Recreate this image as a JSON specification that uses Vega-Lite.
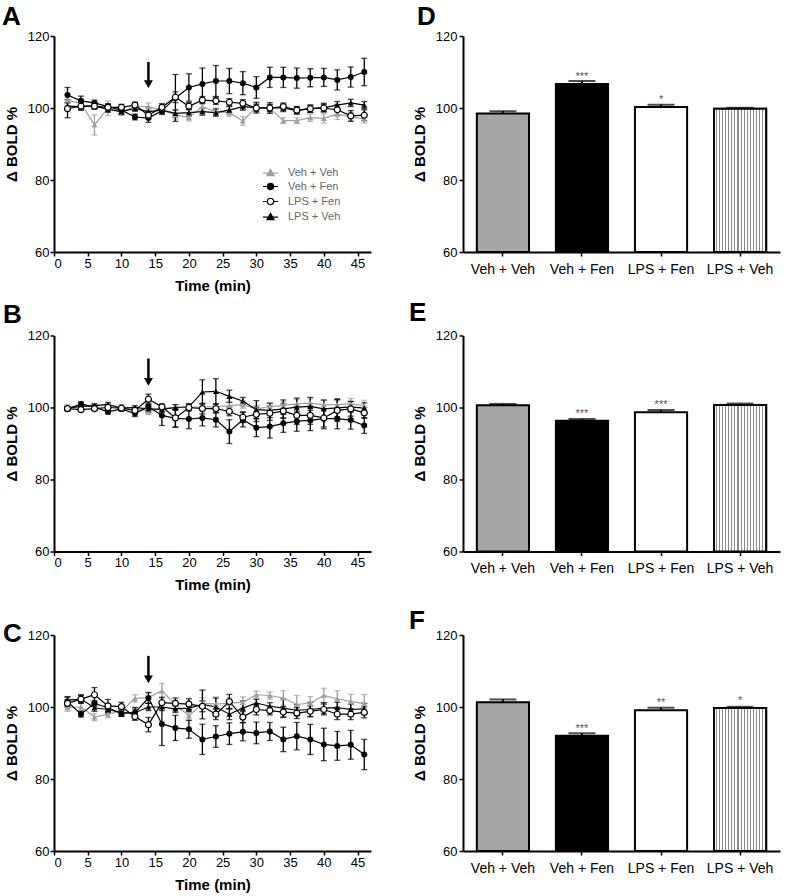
{
"$schema": "https://vega.github.io/schema/vega-lite/v6.json",
"background": "white",
"padding": {"left": 2, "top": 4, "right": 5, "bottom": 5},
"datasets": {
"arrows": [
{"panel":"A","time":14,"top":112.8,"head":106.6},
{"panel":"B","time":14,"top":113.6,"head":107.1},
{"panel":"C","time":14,"top":114.2,"head":107.7}
],
"bars": [
{"panel":"D","group":"Veh + Veh","mean":98.5,"sem":0.6,"sig":""},
{"panel":"D","group":"Veh + Fen","mean":106.7,"sem":0.8,"sig":"***"},
{"panel":"D","group":"LPS + Fen","mean":100.3,"sem":0.6,"sig":"*"},
{"panel":"D","group":"LPS + Veh","mean":99.8,"sem":0.25,"sig":""},
{"panel":"E","group":"Veh + Veh","mean":100.6,"sem":0.4,"sig":""},
{"panel":"E","group":"Veh + Fen","mean":96.3,"sem":0.5,"sig":"***"},
{"panel":"E","group":"LPS + Fen","mean":98.7,"sem":0.6,"sig":"***"},
{"panel":"E","group":"LPS + Veh","mean":100.7,"sem":0.4,"sig":""},
{"panel":"F","group":"Veh + Veh","mean":101.3,"sem":0.8,"sig":""},
{"panel":"F","group":"Veh + Fen","mean":92.0,"sem":0.7,"sig":"***"},
{"panel":"F","group":"LPS + Fen","mean":99.1,"sem":0.7,"sig":"**"},
{"panel":"F","group":"LPS + Veh","mean":99.7,"sem":0.35,"sig":"*"}
],
"lines": [
{"panel":"A","series":"Veh + Veh","time":2,"mean":102.2,"sem":1.5},
{"panel":"A","series":"Veh + Veh","time":4,"mean":101.3,"sem":1},
{"panel":"A","series":"Veh + Veh","time":6,"mean":95.3,"sem":2.8},
{"panel":"A","series":"Veh + Veh","time":8,"mean":99.9,"sem":2},
{"panel":"A","series":"Veh + Veh","time":10,"mean":99.0,"sem":1},
{"panel":"A","series":"Veh + Veh","time":12,"mean":100.4,"sem":1},
{"panel":"A","series":"Veh + Veh","time":14,"mean":100.4,"sem":1},
{"panel":"A","series":"Veh + Veh","time":16,"mean":99.4,"sem":1},
{"panel":"A","series":"Veh + Veh","time":18,"mean":98.1,"sem":1.2},
{"panel":"A","series":"Veh + Veh","time":20,"mean":97.4,"sem":1},
{"panel":"A","series":"Veh + Veh","time":22,"mean":100.4,"sem":1},
{"panel":"A","series":"Veh + Veh","time":24,"mean":99.0,"sem":1},
{"panel":"A","series":"Veh + Veh","time":26,"mean":98.7,"sem":1},
{"panel":"A","series":"Veh + Veh","time":28,"mean":96.4,"sem":1.2},
{"panel":"A","series":"Veh + Veh","time":30,"mean":100.2,"sem":1},
{"panel":"A","series":"Veh + Veh","time":32,"mean":99.9,"sem":1},
{"panel":"A","series":"Veh + Veh","time":34,"mean":96.5,"sem":0.8},
{"panel":"A","series":"Veh + Veh","time":36,"mean":96.5,"sem":0.8},
{"panel":"A","series":"Veh + Veh","time":38,"mean":97.3,"sem":1},
{"panel":"A","series":"Veh + Veh","time":40,"mean":97.1,"sem":1.3},
{"panel":"A","series":"Veh + Veh","time":42,"mean":98.3,"sem":1.5},
{"panel":"A","series":"Veh + Veh","time":44,"mean":97.6,"sem":1.2},
{"panel":"A","series":"Veh + Veh","time":46,"mean":97.0,"sem":1.2},
{"panel":"A","series":"Veh + Fen","time":2,"mean":103.6,"sem":2.1},
{"panel":"A","series":"Veh + Fen","time":4,"mean":102.0,"sem":1.3},
{"panel":"A","series":"Veh + Fen","time":6,"mean":101.4,"sem":0.8},
{"panel":"A","series":"Veh + Fen","time":8,"mean":100.4,"sem":0.8},
{"panel":"A","series":"Veh + Fen","time":10,"mean":99.4,"sem":1},
{"panel":"A","series":"Veh + Fen","time":12,"mean":97.5,"sem":0.8},
{"panel":"A","series":"Veh + Fen","time":14,"mean":97.2,"sem":1.2},
{"panel":"A","series":"Veh + Fen","time":16,"mean":99.2,"sem":1},
{"panel":"A","series":"Veh + Fen","time":18,"mean":102.8,"sem":6.5},
{"panel":"A","series":"Veh + Fen","time":20,"mean":105.7,"sem":3.8},
{"panel":"A","series":"Veh + Fen","time":22,"mean":106.7,"sem":4.4},
{"panel":"A","series":"Veh + Fen","time":24,"mean":107.5,"sem":4.3},
{"panel":"A","series":"Veh + Fen","time":26,"mean":107.5,"sem":3.5},
{"panel":"A","series":"Veh + Fen","time":28,"mean":106.9,"sem":3.2},
{"panel":"A","series":"Veh + Fen","time":30,"mean":105.7,"sem":3},
{"panel":"A","series":"Veh + Fen","time":32,"mean":108.5,"sem":2.8},
{"panel":"A","series":"Veh + Fen","time":34,"mean":108.5,"sem":2.8},
{"panel":"A","series":"Veh + Fen","time":36,"mean":108.3,"sem":2.8},
{"panel":"A","series":"Veh + Fen","time":38,"mean":108.4,"sem":2.5},
{"panel":"A","series":"Veh + Fen","time":40,"mean":108.5,"sem":2.5},
{"panel":"A","series":"Veh + Fen","time":42,"mean":107.8,"sem":2.8},
{"panel":"A","series":"Veh + Fen","time":44,"mean":108.6,"sem":2.8},
{"panel":"A","series":"Veh + Fen","time":46,"mean":110.0,"sem":3.8},
{"panel":"A","series":"LPS + Fen","time":2,"mean":99.8,"sem":2.5},
{"panel":"A","series":"LPS + Fen","time":4,"mean":100.5,"sem":1},
{"panel":"A","series":"LPS + Fen","time":6,"mean":100.5,"sem":0.8},
{"panel":"A","series":"LPS + Fen","time":8,"mean":100.2,"sem":0.8},
{"panel":"A","series":"LPS + Fen","time":10,"mean":100.2,"sem":0.8},
{"panel":"A","series":"LPS + Fen","time":12,"mean":100.8,"sem":0.8},
{"panel":"A","series":"LPS + Fen","time":14,"mean":98.0,"sem":1},
{"panel":"A","series":"LPS + Fen","time":16,"mean":100.2,"sem":1},
{"panel":"A","series":"LPS + Fen","time":18,"mean":103.0,"sem":1.5},
{"panel":"A","series":"LPS + Fen","time":20,"mean":100.5,"sem":1},
{"panel":"A","series":"LPS + Fen","time":22,"mean":102.2,"sem":1},
{"panel":"A","series":"LPS + Fen","time":24,"mean":102.0,"sem":1},
{"panel":"A","series":"LPS + Fen","time":26,"mean":101.6,"sem":1},
{"panel":"A","series":"LPS + Fen","time":28,"mean":101.3,"sem":1},
{"panel":"A","series":"LPS + Fen","time":30,"mean":100.0,"sem":1},
{"panel":"A","series":"LPS + Fen","time":32,"mean":100.0,"sem":1},
{"panel":"A","series":"LPS + Fen","time":34,"mean":100.4,"sem":1},
{"panel":"A","series":"LPS + Fen","time":36,"mean":99.4,"sem":1},
{"panel":"A","series":"LPS + Fen","time":38,"mean":99.8,"sem":1},
{"panel":"A","series":"LPS + Fen","time":40,"mean":100.0,"sem":1},
{"panel":"A","series":"LPS + Fen","time":42,"mean":99.5,"sem":1.5},
{"panel":"A","series":"LPS + Fen","time":44,"mean":97.8,"sem":1.5},
{"panel":"A","series":"LPS + Fen","time":46,"mean":98.0,"sem":1.5},
{"panel":"A","series":"LPS + Veh","time":2,"mean":100.5,"sem":1},
{"panel":"A","series":"LPS + Veh","time":4,"mean":100.4,"sem":1},
{"panel":"A","series":"LPS + Veh","time":6,"mean":100.6,"sem":0.8},
{"panel":"A","series":"LPS + Veh","time":8,"mean":99.6,"sem":0.8},
{"panel":"A","series":"LPS + Veh","time":10,"mean":99.0,"sem":0.8},
{"panel":"A","series":"LPS + Veh","time":12,"mean":99.9,"sem":0.8},
{"panel":"A","series":"LPS + Veh","time":14,"mean":99.0,"sem":1},
{"panel":"A","series":"LPS + Veh","time":16,"mean":99.4,"sem":0.8},
{"panel":"A","series":"LPS + Veh","time":18,"mean":98.5,"sem":1},
{"panel":"A","series":"LPS + Veh","time":20,"mean":98.7,"sem":1},
{"panel":"A","series":"LPS + Veh","time":22,"mean":99.0,"sem":1},
{"panel":"A","series":"LPS + Veh","time":24,"mean":98.7,"sem":1},
{"panel":"A","series":"LPS + Veh","time":26,"mean":99.4,"sem":1},
{"panel":"A","series":"LPS + Veh","time":28,"mean":100.4,"sem":1},
{"panel":"A","series":"LPS + Veh","time":30,"mean":100.1,"sem":1.5},
{"panel":"A","series":"LPS + Veh","time":32,"mean":100.0,"sem":1.5},
{"panel":"A","series":"LPS + Veh","time":34,"mean":100.0,"sem":1},
{"panel":"A","series":"LPS + Veh","time":36,"mean":99.3,"sem":1},
{"panel":"A","series":"LPS + Veh","time":38,"mean":99.8,"sem":1},
{"panel":"A","series":"LPS + Veh","time":40,"mean":100.1,"sem":1.2},
{"panel":"A","series":"LPS + Veh","time":42,"mean":100.8,"sem":1},
{"panel":"A","series":"LPS + Veh","time":44,"mean":101.4,"sem":1},
{"panel":"A","series":"LPS + Veh","time":46,"mean":100.8,"sem":1},
{"panel":"B","series":"Veh + Veh","time":2,"mean":100.2,"sem":0.6},
{"panel":"B","series":"Veh + Veh","time":4,"mean":100.3,"sem":0.6},
{"panel":"B","series":"Veh + Veh","time":6,"mean":100.5,"sem":0.6},
{"panel":"B","series":"Veh + Veh","time":8,"mean":100.5,"sem":0.6},
{"panel":"B","series":"Veh + Veh","time":10,"mean":100.2,"sem":0.6},
{"panel":"B","series":"Veh + Veh","time":12,"mean":99.8,"sem":0.6},
{"panel":"B","series":"Veh + Veh","time":14,"mean":99.0,"sem":0.9},
{"panel":"B","series":"Veh + Veh","time":16,"mean":99.8,"sem":0.8},
{"panel":"B","series":"Veh + Veh","time":18,"mean":100.0,"sem":0.8},
{"panel":"B","series":"Veh + Veh","time":20,"mean":100.0,"sem":0.8},
{"panel":"B","series":"Veh + Veh","time":22,"mean":100.2,"sem":0.8},
{"panel":"B","series":"Veh + Veh","time":24,"mean":100.2,"sem":0.8},
{"panel":"B","series":"Veh + Veh","time":26,"mean":100.5,"sem":1},
{"panel":"B","series":"Veh + Veh","time":28,"mean":100.8,"sem":1},
{"panel":"B","series":"Veh + Veh","time":30,"mean":99.6,"sem":1},
{"panel":"B","series":"Veh + Veh","time":32,"mean":100.2,"sem":1},
{"panel":"B","series":"Veh + Veh","time":34,"mean":100.6,"sem":1},
{"panel":"B","series":"Veh + Veh","time":36,"mean":101.0,"sem":1.2},
{"panel":"B","series":"Veh + Veh","time":38,"mean":101.2,"sem":1.2},
{"panel":"B","series":"Veh + Veh","time":40,"mean":100.8,"sem":1.2},
{"panel":"B","series":"Veh + Veh","time":42,"mean":100.8,"sem":1.2},
{"panel":"B","series":"Veh + Veh","time":44,"mean":101.0,"sem":1.5},
{"panel":"B","series":"Veh + Veh","time":46,"mean":100.5,"sem":1.5},
{"panel":"B","series":"Veh + Fen","time":2,"mean":99.6,"sem":0.5},
{"panel":"B","series":"Veh + Fen","time":4,"mean":101.0,"sem":0.5},
{"panel":"B","series":"Veh + Fen","time":6,"mean":100.1,"sem":0.5},
{"panel":"B","series":"Veh + Fen","time":8,"mean":98.8,"sem":0.6},
{"panel":"B","series":"Veh + Fen","time":10,"mean":99.6,"sem":0.6},
{"panel":"B","series":"Veh + Fen","time":12,"mean":98.3,"sem":0.8},
{"panel":"B","series":"Veh + Fen","time":14,"mean":100.2,"sem":1},
{"panel":"B","series":"Veh + Fen","time":16,"mean":97.8,"sem":2.8},
{"panel":"B","series":"Veh + Fen","time":18,"mean":97.0,"sem":2.5},
{"panel":"B","series":"Veh + Fen","time":20,"mean":96.8,"sem":2.7},
{"panel":"B","series":"Veh + Fen","time":22,"mean":97.1,"sem":2.2},
{"panel":"B","series":"Veh + Fen","time":24,"mean":96.6,"sem":2},
{"panel":"B","series":"Veh + Fen","time":26,"mean":93.3,"sem":3.3},
{"panel":"B","series":"Veh + Fen","time":28,"mean":96.6,"sem":2},
{"panel":"B","series":"Veh + Fen","time":30,"mean":94.4,"sem":2.5},
{"panel":"B","series":"Veh + Fen","time":32,"mean":94.7,"sem":3.2},
{"panel":"B","series":"Veh + Fen","time":34,"mean":95.6,"sem":2.5},
{"panel":"B","series":"Veh + Fen","time":36,"mean":96.2,"sem":2.8},
{"panel":"B","series":"Veh + Fen","time":38,"mean":96.4,"sem":2.8},
{"panel":"B","series":"Veh + Fen","time":40,"mean":96.9,"sem":2.8},
{"panel":"B","series":"Veh + Fen","time":42,"mean":96.9,"sem":2.8},
{"panel":"B","series":"Veh + Fen","time":44,"mean":96.5,"sem":2.5},
{"panel":"B","series":"Veh + Fen","time":46,"mean":95.0,"sem":2.2},
{"panel":"B","series":"LPS + Fen","time":2,"mean":99.7,"sem":0.5},
{"panel":"B","series":"LPS + Fen","time":4,"mean":99.4,"sem":0.5},
{"panel":"B","series":"LPS + Fen","time":6,"mean":99.7,"sem":0.5},
{"panel":"B","series":"LPS + Fen","time":8,"mean":100.0,"sem":0.5},
{"panel":"B","series":"LPS + Fen","time":10,"mean":99.8,"sem":0.5},
{"panel":"B","series":"LPS + Fen","time":12,"mean":99.2,"sem":0.6},
{"panel":"B","series":"LPS + Fen","time":14,"mean":102.3,"sem":1.4},
{"panel":"B","series":"LPS + Fen","time":16,"mean":100.2,"sem":0.8},
{"panel":"B","series":"LPS + Fen","time":18,"mean":97.1,"sem":2.5},
{"panel":"B","series":"LPS + Fen","time":20,"mean":100.0,"sem":1},
{"panel":"B","series":"LPS + Fen","time":22,"mean":99.7,"sem":1.5},
{"panel":"B","series":"LPS + Fen","time":24,"mean":99.7,"sem":1.2},
{"panel":"B","series":"LPS + Fen","time":26,"mean":98.9,"sem":1.2},
{"panel":"B","series":"LPS + Fen","time":28,"mean":97.3,"sem":1.5},
{"panel":"B","series":"LPS + Fen","time":30,"mean":98.1,"sem":2},
{"panel":"B","series":"LPS + Fen","time":32,"mean":98.4,"sem":2},
{"panel":"B","series":"LPS + Fen","time":34,"mean":99.0,"sem":2},
{"panel":"B","series":"LPS + Fen","time":36,"mean":97.8,"sem":2.5},
{"panel":"B","series":"LPS + Fen","time":38,"mean":97.8,"sem":2.5},
{"panel":"B","series":"LPS + Fen","time":40,"mean":97.1,"sem":2.5},
{"panel":"B","series":"LPS + Fen","time":42,"mean":99.2,"sem":3},
{"panel":"B","series":"LPS + Fen","time":44,"mean":99.6,"sem":2},
{"panel":"B","series":"LPS + Fen","time":46,"mean":98.5,"sem":1.5},
{"panel":"B","series":"LPS + Veh","time":2,"mean":99.8,"sem":0.5},
{"panel":"B","series":"LPS + Veh","time":4,"mean":100.3,"sem":0.5},
{"panel":"B","series":"LPS + Veh","time":6,"mean":100.5,"sem":0.5},
{"panel":"B","series":"LPS + Veh","time":8,"mean":100.9,"sem":0.5},
{"panel":"B","series":"LPS + Veh","time":10,"mean":99.8,"sem":0.5},
{"panel":"B","series":"LPS + Veh","time":12,"mean":100.0,"sem":0.5},
{"panel":"B","series":"LPS + Veh","time":14,"mean":99.6,"sem":1},
{"panel":"B","series":"LPS + Veh","time":16,"mean":99.5,"sem":0.8},
{"panel":"B","series":"LPS + Veh","time":18,"mean":100.0,"sem":0.8},
{"panel":"B","series":"LPS + Veh","time":20,"mean":100.2,"sem":0.8},
{"panel":"B","series":"LPS + Veh","time":22,"mean":104.3,"sem":3.4},
{"panel":"B","series":"LPS + Veh","time":24,"mean":104.5,"sem":3.5},
{"panel":"B","series":"LPS + Veh","time":26,"mean":103.1,"sem":1.7},
{"panel":"B","series":"LPS + Veh","time":28,"mean":101.8,"sem":1},
{"panel":"B","series":"LPS + Veh","time":30,"mean":99.4,"sem":2.5},
{"panel":"B","series":"LPS + Veh","time":32,"mean":99.2,"sem":2},
{"panel":"B","series":"LPS + Veh","time":34,"mean":99.6,"sem":2.5},
{"panel":"B","series":"LPS + Veh","time":36,"mean":100.1,"sem":2.5},
{"panel":"B","series":"LPS + Veh","time":38,"mean":100.3,"sem":2.5},
{"panel":"B","series":"LPS + Veh","time":40,"mean":99.6,"sem":2.5},
{"panel":"B","series":"LPS + Veh","time":42,"mean":99.9,"sem":2.5},
{"panel":"B","series":"LPS + Veh","time":44,"mean":100.2,"sem":1.5},
{"panel":"B","series":"LPS + Veh","time":46,"mean":99.8,"sem":1.5},
{"panel":"C","series":"Veh + Veh","time":2,"mean":99.8,"sem":1},
{"panel":"C","series":"Veh + Veh","time":4,"mean":100.0,"sem":1},
{"panel":"C","series":"Veh + Veh","time":6,"mean":97.2,"sem":1},
{"panel":"C","series":"Veh + Veh","time":8,"mean":98.0,"sem":1},
{"panel":"C","series":"Veh + Veh","time":10,"mean":98.9,"sem":1},
{"panel":"C","series":"Veh + Veh","time":12,"mean":102.4,"sem":1},
{"panel":"C","series":"Veh + Veh","time":14,"mean":102.6,"sem":1.5},
{"panel":"C","series":"Veh + Veh","time":16,"mean":104.5,"sem":2},
{"panel":"C","series":"Veh + Veh","time":18,"mean":100.7,"sem":1.2},
{"panel":"C","series":"Veh + Veh","time":20,"mean":97.5,"sem":1.2},
{"panel":"C","series":"Veh + Veh","time":22,"mean":101.1,"sem":1.5},
{"panel":"C","series":"Veh + Veh","time":24,"mean":100.8,"sem":2},
{"panel":"C","series":"Veh + Veh","time":26,"mean":101.1,"sem":1.5},
{"panel":"C","series":"Veh + Veh","time":28,"mean":101.3,"sem":1.5},
{"panel":"C","series":"Veh + Veh","time":30,"mean":103.4,"sem":1},
{"panel":"C","series":"Veh + Veh","time":32,"mean":103.2,"sem":1},
{"panel":"C","series":"Veh + Veh","time":34,"mean":102.5,"sem":2},
{"panel":"C","series":"Veh + Veh","time":36,"mean":100.7,"sem":2.5},
{"panel":"C","series":"Veh + Veh","time":38,"mean":101.1,"sem":1.8},
{"panel":"C","series":"Veh + Veh","time":40,"mean":103.2,"sem":2},
{"panel":"C","series":"Veh + Veh","time":42,"mean":102.3,"sem":2.2},
{"panel":"C","series":"Veh + Veh","time":44,"mean":101.5,"sem":2},
{"panel":"C","series":"Veh + Veh","time":46,"mean":101.0,"sem":2.5},
{"panel":"C","series":"Veh + Fen","time":2,"mean":101.5,"sem":1.2},
{"panel":"C","series":"Veh + Fen","time":4,"mean":98.0,"sem":0.8},
{"panel":"C","series":"Veh + Fen","time":6,"mean":101.0,"sem":0.8},
{"panel":"C","series":"Veh + Fen","time":8,"mean":99.8,"sem":1},
{"panel":"C","series":"Veh + Fen","time":10,"mean":98.2,"sem":0.8},
{"panel":"C","series":"Veh + Fen","time":12,"mean":98.4,"sem":1.5},
{"panel":"C","series":"Veh + Fen","time":14,"mean":102.5,"sem":1.5},
{"panel":"C","series":"Veh + Fen","time":16,"mean":95.3,"sem":6},
{"panel":"C","series":"Veh + Fen","time":18,"mean":94.2,"sem":3.5},
{"panel":"C","series":"Veh + Fen","time":20,"mean":93.8,"sem":2.5},
{"panel":"C","series":"Veh + Fen","time":22,"mean":91.0,"sem":4.2},
{"panel":"C","series":"Veh + Fen","time":24,"mean":91.8,"sem":3},
{"panel":"C","series":"Veh + Fen","time":26,"mean":92.6,"sem":3},
{"panel":"C","series":"Veh + Fen","time":28,"mean":93.1,"sem":2.5},
{"panel":"C","series":"Veh + Fen","time":30,"mean":92.8,"sem":3},
{"panel":"C","series":"Veh + Fen","time":32,"mean":93.2,"sem":2.5},
{"panel":"C","series":"Veh + Fen","time":34,"mean":91.0,"sem":3.4},
{"panel":"C","series":"Veh + Fen","time":36,"mean":91.9,"sem":3.8},
{"panel":"C","series":"Veh + Fen","time":38,"mean":91.0,"sem":4.2},
{"panel":"C","series":"Veh + Fen","time":40,"mean":89.6,"sem":4.5},
{"panel":"C","series":"Veh + Fen","time":42,"mean":89.2,"sem":4},
{"panel":"C","series":"Veh + Fen","time":44,"mean":89.5,"sem":4},
{"panel":"C","series":"Veh + Fen","time":46,"mean":86.8,"sem":4.2},
{"panel":"C","series":"LPS + Fen","time":2,"mean":101.0,"sem":1},
{"panel":"C","series":"LPS + Fen","time":4,"mean":102.2,"sem":1},
{"panel":"C","series":"LPS + Fen","time":6,"mean":103.4,"sem":2},
{"panel":"C","series":"LPS + Fen","time":8,"mean":100.3,"sem":1.8},
{"panel":"C","series":"LPS + Fen","time":10,"mean":100.1,"sem":1.2},
{"panel":"C","series":"LPS + Fen","time":12,"mean":97.3,"sem":1},
{"panel":"C","series":"LPS + Fen","time":14,"mean":95.1,"sem":2},
{"panel":"C","series":"LPS + Fen","time":16,"mean":101.2,"sem":1.5},
{"panel":"C","series":"LPS + Fen","time":18,"mean":101.0,"sem":1.5},
{"panel":"C","series":"LPS + Fen","time":20,"mean":100.8,"sem":1.5},
{"panel":"C","series":"LPS + Fen","time":22,"mean":100.2,"sem":1.5},
{"panel":"C","series":"LPS + Fen","time":24,"mean":98.0,"sem":1.5},
{"panel":"C","series":"LPS + Fen","time":26,"mean":101.5,"sem":2},
{"panel":"C","series":"LPS + Fen","time":28,"mean":97.2,"sem":1.5},
{"panel":"C","series":"LPS + Fen","time":30,"mean":99.3,"sem":1.5},
{"panel":"C","series":"LPS + Fen","time":32,"mean":99.0,"sem":1.2},
{"panel":"C","series":"LPS + Fen","time":34,"mean":98.6,"sem":1.5},
{"panel":"C","series":"LPS + Fen","time":36,"mean":98.3,"sem":1.5},
{"panel":"C","series":"LPS + Fen","time":38,"mean":98.8,"sem":1.5},
{"panel":"C","series":"LPS + Fen","time":40,"mean":99.3,"sem":1.5},
{"panel":"C","series":"LPS + Fen","time":42,"mean":98.0,"sem":1.5},
{"panel":"C","series":"LPS + Fen","time":44,"mean":98.0,"sem":1.5},
{"panel":"C","series":"LPS + Fen","time":46,"mean":98.5,"sem":1.5},
{"panel":"C","series":"LPS + Veh","time":2,"mean":101.9,"sem":1},
{"panel":"C","series":"LPS + Veh","time":4,"mean":102.2,"sem":1.2},
{"panel":"C","series":"LPS + Veh","time":6,"mean":99.8,"sem":1},
{"panel":"C","series":"LPS + Veh","time":8,"mean":99.3,"sem":1},
{"panel":"C","series":"LPS + Veh","time":10,"mean":98.4,"sem":1},
{"panel":"C","series":"LPS + Veh","time":12,"mean":98.4,"sem":1},
{"panel":"C","series":"LPS + Veh","time":14,"mean":100.0,"sem":1},
{"panel":"C","series":"LPS + Veh","time":16,"mean":100.0,"sem":1},
{"panel":"C","series":"LPS + Veh","time":18,"mean":99.5,"sem":1},
{"panel":"C","series":"LPS + Veh","time":20,"mean":99.7,"sem":1},
{"panel":"C","series":"LPS + Veh","time":22,"mean":100.7,"sem":4},
{"panel":"C","series":"LPS + Veh","time":24,"mean":100.0,"sem":2.5},
{"panel":"C","series":"LPS + Veh","time":26,"mean":98.0,"sem":1.5},
{"panel":"C","series":"LPS + Veh","time":28,"mean":99.7,"sem":2},
{"panel":"C","series":"LPS + Veh","time":30,"mean":101.1,"sem":1},
{"panel":"C","series":"LPS + Veh","time":32,"mean":100.2,"sem":1},
{"panel":"C","series":"LPS + Veh","time":34,"mean":99.7,"sem":2.5},
{"panel":"C","series":"LPS + Veh","time":36,"mean":99.1,"sem":1.5},
{"panel":"C","series":"LPS + Veh","time":38,"mean":99.3,"sem":2},
{"panel":"C","series":"LPS + Veh","time":40,"mean":99.7,"sem":1.5},
{"panel":"C","series":"LPS + Veh","time":42,"mean":99.8,"sem":1.5},
{"panel":"C","series":"LPS + Veh","time":44,"mean":99.3,"sem":1.5},
{"panel":"C","series":"LPS + Veh","time":46,"mean":99.5,"sem":1.5}
]
},
"columns": 2,
"spacing": {"row": 83.5, "column": 92},
"bounds": "flush",
"resolve": {
"scale": {"x": "independent", "y": "independent", "fill": "independent", "stroke": "independent", "shape": "independent"},
"legend": {"fill": "independent", "stroke": "independent", "shape": "independent"}
},
"concat": [
{
"width": 317, "height": 216,
"title": {"text": "A", "dx": -52, "dy": 4},
"data": {"name": "lines"},
"transform": [{"filter": "datum.panel === 'A'"}],
"encoding": {
"x": {"field": "time", "type": "quantitative", "scale": {"domain": [0, 47], "nice": false}, "axis": {"values": [0,5,10,15,20,25,30,35,40,45], "title": "Time (min)", "labelPadding": 1, "titlePadding": 8}},
"y": {"field": "mean", "type": "quantitative", "scale": {"domain": [60, 120], "nice": false, "zero": false}, "axis": {"values": [60,80,100,120], "title": "Δ BOLD %", "labelPadding": 1, "titlePadding": 8}}
},
"layer": [
{"mark": {"type": "point", "filled": true, "size": 36, "opacity": 0, "strokeWidth": 1.2},
 "encoding": {
 "shape": {"field": "series", "type": "nominal", "scale": {"domain": ["Veh + Veh","Veh + Fen","LPS + Fen","LPS + Veh"], "range": ["M-2.3,0.2L2.3,0.2M0,-0.95L1.1,0.95L-1.1,0.95Z","M-2.3,0L-1,0M1,0L2.3,0M1,0A1,1,0,1,1,-1,0A1,1,0,1,1,1,0Z","M-2.3,0L-1,0M1,0L2.3,0M1,0A1,1,0,1,1,-1,0A1,1,0,1,1,1,0Z","M-2.3,0.2L2.3,0.2M0,-0.95L1.1,0.95L-1.1,0.95Z"]}, "legend": {"title": null, "orient": "bottom-right", "offset": 30, "labelFontSize": 11, "labelColor": "#666666", "symbolSize": 42, "symbolOpacity": 1, "symbolStrokeWidth": 1.2, "labelOffset": 12, "rowPadding": 2}},
 "fill": {"field": "series", "type": "nominal", "scale": {"domain": ["Veh + Veh","Veh + Fen","LPS + Fen","LPS + Veh"], "range": ["#a0a0a0","#000000","#ffffff","#000000"]}, "legend": {"title": null, "orient": "bottom-right", "offset": 30, "labelFontSize": 11, "labelColor": "#666666", "symbolSize": 42, "symbolOpacity": 1, "symbolStrokeWidth": 1.2, "labelOffset": 12, "rowPadding": 2}},
 "stroke": {"field": "series", "type": "nominal", "scale": {"domain": ["Veh + Veh","Veh + Fen","LPS + Fen","LPS + Veh"], "range": ["#a0a0a0","#000000","#000000","#000000"]}, "legend": {"title": null, "orient": "bottom-right", "offset": 30, "labelFontSize": 11, "labelColor": "#666666", "symbolSize": 42, "symbolOpacity": 1, "symbolStrokeWidth": 1.2, "labelOffset": 12, "rowPadding": 2}}
 }},
{"transform": [{"filter": "datum.series === 'Veh + Veh'"}], "mark": {"type": "errorbar", "ticks": {"size": 6}, "thickness": 1.3, "color": "#a0a0a0"}, "encoding": {"yError": {"field": "sem"}}},
{"transform": [{"filter": "datum.series !== 'Veh + Veh'"}], "mark": {"type": "errorbar", "ticks": {"size": 6}, "thickness": 1.3, "color": "#000000"}, "encoding": {"yError": {"field": "sem"}}},
{"transform": [{"filter": "datum.series === 'Veh + Veh'"}], "mark": {"type": "line", "strokeWidth": 1.2, "color": "#a0a0a0"}, "encoding": {}},
{"transform": [{"filter": "datum.series !== 'Veh + Veh'"}], "mark": {"type": "line", "strokeWidth": 1.2, "color": "#000000"}, "encoding": {"detail": {"field": "series", "type": "nominal"}}},
{"transform": [{"filter": "datum.series === 'Veh + Veh'"}], "mark": {"type": "point", "shape": "triangle-up", "filled": true, "size": 36, "color": "#a0a0a0", "opacity": 1}},
{"transform": [{"filter": "datum.series === 'LPS + Veh'"}], "mark": {"type": "point", "shape": "triangle-up", "filled": true, "size": 36, "color": "#000000", "opacity": 1}},
{"transform": [{"filter": "datum.series === 'Veh + Fen'"}], "mark": {"type": "point", "shape": "circle", "filled": true, "size": 36, "color": "#000000", "opacity": 1}},
{"transform": [{"filter": "datum.series === 'LPS + Fen'"}], "mark": {"type": "point", "shape": "circle", "filled": true, "size": 36, "fill": "#ffffff", "stroke": "#000000", "strokeWidth": 1.2, "opacity": 1}},
{"data": {"name": "arrows"}, "transform": [{"filter": "datum.panel === 'A'"}], "mark": {"type": "rule", "strokeWidth": 2.5, "color": "#000"}, "encoding": {"y": {"field": "top", "type": "quantitative"}, "y2": {"field": "head"}}},
{"data": {"name": "arrows"}, "transform": [{"filter": "datum.panel === 'A'"}], "mark": {"type": "point", "shape": "triangle-down", "filled": true, "size": 80, "color": "#000", "opacity": 1}, "encoding": {"y": {"field": "head", "type": "quantitative"}}}
]
},
{
"width": 317, "height": 216,
"title": {"text": "D", "dx": -46, "dy": 4},
"data": {"name": "bars"},
"transform": [{"filter": "datum.panel === 'D'"}],
"encoding": {
"x": {"field": "group", "type": "nominal", "sort": ["Veh + Veh","Veh + Fen","LPS + Fen","LPS + Veh"], "scale": {"paddingInner": 0.34, "paddingOuter": 0.175}, "axis": {"title": null, "labelAngle": 0, "labelFontSize": 14, "labelPadding": 6}},
"y": {"field": "mean", "type": "quantitative", "scale": {"domain": [60, 120], "nice": false, "zero": false}, "axis": {"values": [60,80,100,120], "title": "Δ BOLD %", "labelPadding": 2, "titlePadding": 8}}
},
"layer": [
{"mark": {"type": "errorbar", "ticks": {"size": 27}, "thickness": 2, "color": "#000"}, "encoding": {"yError": {"field": "sem"}}},
{"mark": {"type": "bar", "stroke": "#000", "strokeWidth": 2}, "encoding": {"y2": {"datum": 60}, "fill": {"field": "group", "type": "nominal", "scale": {"domain": ["Veh + Veh","Veh + Fen","LPS + Fen","LPS + Veh"], "range": ["#a5a5a5","#000000","#ffffff","#ffffff"]}, "legend": null}}},
{"transform": [{"filter": "datum.group === 'LPS + Veh'"}], "mark": {"type": "bar", "stroke": "#000", "strokeWidth": 2, "fill": {"gradient": "linear", "x1": 0, "y1": 0, "x2": 1, "y2": 0, "stops": [{"offset":0,"color":"#fff"},{"offset":0.0382,"color":"#fff"},{"offset":0.0382,"color":"#8c8c8c"},{"offset":0.0588,"color":"#8c8c8c"},{"offset":0.0588,"color":"#fff"},{"offset":0.0971,"color":"#fff"},{"offset":0.0971,"color":"#8c8c8c"},{"offset":0.1176,"color":"#8c8c8c"},{"offset":0.1176,"color":"#fff"},{"offset":0.1559,"color":"#fff"},{"offset":0.1559,"color":"#8c8c8c"},{"offset":0.1765,"color":"#8c8c8c"},{"offset":0.1765,"color":"#fff"},{"offset":0.2147,"color":"#fff"},{"offset":0.2147,"color":"#8c8c8c"},{"offset":0.2353,"color":"#8c8c8c"},{"offset":0.2353,"color":"#fff"},{"offset":0.2735,"color":"#fff"},{"offset":0.2735,"color":"#8c8c8c"},{"offset":0.2941,"color":"#8c8c8c"},{"offset":0.2941,"color":"#fff"},{"offset":0.3324,"color":"#fff"},{"offset":0.3324,"color":"#8c8c8c"},{"offset":0.3529,"color":"#8c8c8c"},{"offset":0.3529,"color":"#fff"},{"offset":0.3912,"color":"#fff"},{"offset":0.3912,"color":"#8c8c8c"},{"offset":0.4118,"color":"#8c8c8c"},{"offset":0.4118,"color":"#fff"},{"offset":0.45,"color":"#fff"},{"offset":0.45,"color":"#8c8c8c"},{"offset":0.4706,"color":"#8c8c8c"},{"offset":0.4706,"color":"#fff"},{"offset":0.5088,"color":"#fff"},{"offset":0.5088,"color":"#8c8c8c"},{"offset":0.5294,"color":"#8c8c8c"},{"offset":0.5294,"color":"#fff"},{"offset":0.5676,"color":"#fff"},{"offset":0.5676,"color":"#8c8c8c"},{"offset":0.5882,"color":"#8c8c8c"},{"offset":0.5882,"color":"#fff"},{"offset":0.6265,"color":"#fff"},{"offset":0.6265,"color":"#8c8c8c"},{"offset":0.6471,"color":"#8c8c8c"},{"offset":0.6471,"color":"#fff"},{"offset":0.6853,"color":"#fff"},{"offset":0.6853,"color":"#8c8c8c"},{"offset":0.7059,"color":"#8c8c8c"},{"offset":0.7059,"color":"#fff"},{"offset":0.7441,"color":"#fff"},{"offset":0.7441,"color":"#8c8c8c"},{"offset":0.7647,"color":"#8c8c8c"},{"offset":0.7647,"color":"#fff"},{"offset":0.8029,"color":"#fff"},{"offset":0.8029,"color":"#8c8c8c"},{"offset":0.8235,"color":"#8c8c8c"},{"offset":0.8235,"color":"#fff"},{"offset":0.8618,"color":"#fff"},{"offset":0.8618,"color":"#8c8c8c"},{"offset":0.8824,"color":"#8c8c8c"},{"offset":0.8824,"color":"#fff"},{"offset":0.9206,"color":"#fff"},{"offset":0.9206,"color":"#8c8c8c"},{"offset":0.9412,"color":"#8c8c8c"},{"offset":0.9412,"color":"#fff"},{"offset":0.9794,"color":"#fff"},{"offset":0.9794,"color":"#8c8c8c"},{"offset":1,"color":"#8c8c8c"}]}}, "encoding": {"y2": {"datum": 60}}},
{"mark": {"type": "text", "dy": -4, "fontSize": 11, "color": "#555555", "baseline": "alphabetic"}, "encoding": {"text": {"field": "sig"}}}
]
},
{
"width": 317, "height": 216,
"title": {"text": "B", "dx": -51, "dy": 2},
"data": {"name": "lines"},
"transform": [{"filter": "datum.panel === 'B'"}],
"encoding": {
"x": {"field": "time", "type": "quantitative", "scale": {"domain": [0, 47], "nice": false}, "axis": {"values": [0,5,10,15,20,25,30,35,40,45], "title": "Time (min)", "labelPadding": 1, "titlePadding": 8}},
"y": {"field": "mean", "type": "quantitative", "scale": {"domain": [60, 120], "nice": false, "zero": false}, "axis": {"values": [60,80,100,120], "title": "Δ BOLD %", "labelPadding": 1, "titlePadding": 8}}
},
"layer": [
{"transform": [{"filter": "datum.series === 'Veh + Veh'"}], "mark": {"type": "errorbar", "ticks": {"size": 6}, "thickness": 1.3, "color": "#a0a0a0"}, "encoding": {"yError": {"field": "sem"}}},
{"transform": [{"filter": "datum.series !== 'Veh + Veh'"}], "mark": {"type": "errorbar", "ticks": {"size": 6}, "thickness": 1.3, "color": "#000000"}, "encoding": {"yError": {"field": "sem"}}},
{"transform": [{"filter": "datum.series === 'Veh + Veh'"}], "mark": {"type": "line", "strokeWidth": 1.2, "color": "#a0a0a0"}, "encoding": {}},
{"transform": [{"filter": "datum.series !== 'Veh + Veh'"}], "mark": {"type": "line", "strokeWidth": 1.2, "color": "#000000"}, "encoding": {"detail": {"field": "series", "type": "nominal"}}},
{"transform": [{"filter": "datum.series === 'Veh + Veh'"}], "mark": {"type": "point", "shape": "triangle-up", "filled": true, "size": 36, "color": "#a0a0a0", "opacity": 1}},
{"transform": [{"filter": "datum.series === 'LPS + Veh'"}], "mark": {"type": "point", "shape": "triangle-up", "filled": true, "size": 36, "color": "#000000", "opacity": 1}},
{"transform": [{"filter": "datum.series === 'Veh + Fen'"}], "mark": {"type": "point", "shape": "circle", "filled": true, "size": 36, "color": "#000000", "opacity": 1}},
{"transform": [{"filter": "datum.series === 'LPS + Fen'"}], "mark": {"type": "point", "shape": "circle", "filled": true, "size": 36, "fill": "#ffffff", "stroke": "#000000", "strokeWidth": 1.2, "opacity": 1}},
{"data": {"name": "arrows"}, "transform": [{"filter": "datum.panel === 'B'"}], "mark": {"type": "rule", "strokeWidth": 2.5, "color": "#000"}, "encoding": {"y": {"field": "top", "type": "quantitative"}, "y2": {"field": "head"}}},
{"data": {"name": "arrows"}, "transform": [{"filter": "datum.panel === 'B'"}], "mark": {"type": "point", "shape": "triangle-down", "filled": true, "size": 80, "color": "#000", "opacity": 1}, "encoding": {"y": {"field": "head", "type": "quantitative"}}}
]
},
{
"width": 317, "height": 216,
"title": {"text": "E", "dx": -54, "dy": 0},
"data": {"name": "bars"},
"transform": [{"filter": "datum.panel === 'E'"}],
"encoding": {
"x": {"field": "group", "type": "nominal", "sort": ["Veh + Veh","Veh + Fen","LPS + Fen","LPS + Veh"], "scale": {"paddingInner": 0.34, "paddingOuter": 0.175}, "axis": {"title": null, "labelAngle": 0, "labelFontSize": 14, "labelPadding": 6}},
"y": {"field": "mean", "type": "quantitative", "scale": {"domain": [60, 120], "nice": false, "zero": false}, "axis": {"values": [60,80,100,120], "title": "Δ BOLD %", "labelPadding": 2, "titlePadding": 8}}
},
"layer": [
{"mark": {"type": "errorbar", "ticks": {"size": 27}, "thickness": 2, "color": "#000"}, "encoding": {"yError": {"field": "sem"}}},
{"mark": {"type": "bar", "stroke": "#000", "strokeWidth": 2}, "encoding": {"y2": {"datum": 60}, "fill": {"field": "group", "type": "nominal", "scale": {"domain": ["Veh + Veh","Veh + Fen","LPS + Fen","LPS + Veh"], "range": ["#a5a5a5","#000000","#ffffff","#ffffff"]}, "legend": null}}},
{"transform": [{"filter": "datum.group === 'LPS + Veh'"}], "mark": {"type": "bar", "stroke": "#000", "strokeWidth": 2, "fill": {"gradient": "linear", "x1": 0, "y1": 0, "x2": 1, "y2": 0, "stops": [{"offset":0,"color":"#fff"},{"offset":0.0382,"color":"#fff"},{"offset":0.0382,"color":"#8c8c8c"},{"offset":0.0588,"color":"#8c8c8c"},{"offset":0.0588,"color":"#fff"},{"offset":0.0971,"color":"#fff"},{"offset":0.0971,"color":"#8c8c8c"},{"offset":0.1176,"color":"#8c8c8c"},{"offset":0.1176,"color":"#fff"},{"offset":0.1559,"color":"#fff"},{"offset":0.1559,"color":"#8c8c8c"},{"offset":0.1765,"color":"#8c8c8c"},{"offset":0.1765,"color":"#fff"},{"offset":0.2147,"color":"#fff"},{"offset":0.2147,"color":"#8c8c8c"},{"offset":0.2353,"color":"#8c8c8c"},{"offset":0.2353,"color":"#fff"},{"offset":0.2735,"color":"#fff"},{"offset":0.2735,"color":"#8c8c8c"},{"offset":0.2941,"color":"#8c8c8c"},{"offset":0.2941,"color":"#fff"},{"offset":0.3324,"color":"#fff"},{"offset":0.3324,"color":"#8c8c8c"},{"offset":0.3529,"color":"#8c8c8c"},{"offset":0.3529,"color":"#fff"},{"offset":0.3912,"color":"#fff"},{"offset":0.3912,"color":"#8c8c8c"},{"offset":0.4118,"color":"#8c8c8c"},{"offset":0.4118,"color":"#fff"},{"offset":0.45,"color":"#fff"},{"offset":0.45,"color":"#8c8c8c"},{"offset":0.4706,"color":"#8c8c8c"},{"offset":0.4706,"color":"#fff"},{"offset":0.5088,"color":"#fff"},{"offset":0.5088,"color":"#8c8c8c"},{"offset":0.5294,"color":"#8c8c8c"},{"offset":0.5294,"color":"#fff"},{"offset":0.5676,"color":"#fff"},{"offset":0.5676,"color":"#8c8c8c"},{"offset":0.5882,"color":"#8c8c8c"},{"offset":0.5882,"color":"#fff"},{"offset":0.6265,"color":"#fff"},{"offset":0.6265,"color":"#8c8c8c"},{"offset":0.6471,"color":"#8c8c8c"},{"offset":0.6471,"color":"#fff"},{"offset":0.6853,"color":"#fff"},{"offset":0.6853,"color":"#8c8c8c"},{"offset":0.7059,"color":"#8c8c8c"},{"offset":0.7059,"color":"#fff"},{"offset":0.7441,"color":"#fff"},{"offset":0.7441,"color":"#8c8c8c"},{"offset":0.7647,"color":"#8c8c8c"},{"offset":0.7647,"color":"#fff"},{"offset":0.8029,"color":"#fff"},{"offset":0.8029,"color":"#8c8c8c"},{"offset":0.8235,"color":"#8c8c8c"},{"offset":0.8235,"color":"#fff"},{"offset":0.8618,"color":"#fff"},{"offset":0.8618,"color":"#8c8c8c"},{"offset":0.8824,"color":"#8c8c8c"},{"offset":0.8824,"color":"#fff"},{"offset":0.9206,"color":"#fff"},{"offset":0.9206,"color":"#8c8c8c"},{"offset":0.9412,"color":"#8c8c8c"},{"offset":0.9412,"color":"#fff"},{"offset":0.9794,"color":"#fff"},{"offset":0.9794,"color":"#8c8c8c"},{"offset":1,"color":"#8c8c8c"}]}}, "encoding": {"y2": {"datum": 60}}},
{"mark": {"type": "text", "dy": -4, "fontSize": 11, "color": "#555555", "baseline": "alphabetic"}, "encoding": {"text": {"field": "sig"}}}
]
},
{
"width": 317, "height": 216,
"title": {"text": "C", "dx": -51, "dy": 22},
"data": {"name": "lines"},
"transform": [{"filter": "datum.panel === 'C'"}],
"encoding": {
"x": {"field": "time", "type": "quantitative", "scale": {"domain": [0, 47], "nice": false}, "axis": {"values": [0,5,10,15,20,25,30,35,40,45], "title": "Time (min)", "labelPadding": 1, "titlePadding": 8}},
"y": {"field": "mean", "type": "quantitative", "scale": {"domain": [60, 120], "nice": false, "zero": false}, "axis": {"values": [60,80,100,120], "title": "Δ BOLD %", "labelPadding": 1, "titlePadding": 8}}
},
"layer": [
{"transform": [{"filter": "datum.series === 'Veh + Veh'"}], "mark": {"type": "errorbar", "ticks": {"size": 6}, "thickness": 1.3, "color": "#a0a0a0"}, "encoding": {"yError": {"field": "sem"}}},
{"transform": [{"filter": "datum.series !== 'Veh + Veh'"}], "mark": {"type": "errorbar", "ticks": {"size": 6}, "thickness": 1.3, "color": "#000000"}, "encoding": {"yError": {"field": "sem"}}},
{"transform": [{"filter": "datum.series === 'Veh + Veh'"}], "mark": {"type": "line", "strokeWidth": 1.2, "color": "#a0a0a0"}, "encoding": {}},
{"transform": [{"filter": "datum.series !== 'Veh + Veh'"}], "mark": {"type": "line", "strokeWidth": 1.2, "color": "#000000"}, "encoding": {"detail": {"field": "series", "type": "nominal"}}},
{"transform": [{"filter": "datum.series === 'Veh + Veh'"}], "mark": {"type": "point", "shape": "triangle-up", "filled": true, "size": 36, "color": "#a0a0a0", "opacity": 1}},
{"transform": [{"filter": "datum.series === 'LPS + Veh'"}], "mark": {"type": "point", "shape": "triangle-up", "filled": true, "size": 36, "color": "#000000", "opacity": 1}},
{"transform": [{"filter": "datum.series === 'Veh + Fen'"}], "mark": {"type": "point", "shape": "circle", "filled": true, "size": 36, "color": "#000000", "opacity": 1}},
{"transform": [{"filter": "datum.series === 'LPS + Fen'"}], "mark": {"type": "point", "shape": "circle", "filled": true, "size": 36, "fill": "#ffffff", "stroke": "#000000", "strokeWidth": 1.2, "opacity": 1}},
{"data": {"name": "arrows"}, "transform": [{"filter": "datum.panel === 'C'"}], "mark": {"type": "rule", "strokeWidth": 2.5, "color": "#000"}, "encoding": {"y": {"field": "top", "type": "quantitative"}, "y2": {"field": "head"}}},
{"data": {"name": "arrows"}, "transform": [{"filter": "datum.panel === 'C'"}], "mark": {"type": "point", "shape": "triangle-down", "filled": true, "size": 80, "color": "#000", "opacity": 1}, "encoding": {"y": {"field": "head", "type": "quantitative"}}}
]
},
{
"width": 317, "height": 216,
"title": {"text": "F", "dx": -54, "dy": 9},
"data": {"name": "bars"},
"transform": [{"filter": "datum.panel === 'F'"}],
"encoding": {
"x": {"field": "group", "type": "nominal", "sort": ["Veh + Veh","Veh + Fen","LPS + Fen","LPS + Veh"], "scale": {"paddingInner": 0.34, "paddingOuter": 0.175}, "axis": {"title": null, "labelAngle": 0, "labelFontSize": 14, "labelPadding": 6}},
"y": {"field": "mean", "type": "quantitative", "scale": {"domain": [60, 120], "nice": false, "zero": false}, "axis": {"values": [60,80,100,120], "title": "Δ BOLD %", "labelPadding": 2, "titlePadding": 8}}
},
"layer": [
{"mark": {"type": "errorbar", "ticks": {"size": 27}, "thickness": 2, "color": "#000"}, "encoding": {"yError": {"field": "sem"}}},
{"mark": {"type": "bar", "stroke": "#000", "strokeWidth": 2}, "encoding": {"y2": {"datum": 60}, "fill": {"field": "group", "type": "nominal", "scale": {"domain": ["Veh + Veh","Veh + Fen","LPS + Fen","LPS + Veh"], "range": ["#a5a5a5","#000000","#ffffff","#ffffff"]}, "legend": null}}},
{"transform": [{"filter": "datum.group === 'LPS + Veh'"}], "mark": {"type": "bar", "stroke": "#000", "strokeWidth": 2, "fill": {"gradient": "linear", "x1": 0, "y1": 0, "x2": 1, "y2": 0, "stops": [{"offset":0,"color":"#fff"},{"offset":0.0382,"color":"#fff"},{"offset":0.0382,"color":"#8c8c8c"},{"offset":0.0588,"color":"#8c8c8c"},{"offset":0.0588,"color":"#fff"},{"offset":0.0971,"color":"#fff"},{"offset":0.0971,"color":"#8c8c8c"},{"offset":0.1176,"color":"#8c8c8c"},{"offset":0.1176,"color":"#fff"},{"offset":0.1559,"color":"#fff"},{"offset":0.1559,"color":"#8c8c8c"},{"offset":0.1765,"color":"#8c8c8c"},{"offset":0.1765,"color":"#fff"},{"offset":0.2147,"color":"#fff"},{"offset":0.2147,"color":"#8c8c8c"},{"offset":0.2353,"color":"#8c8c8c"},{"offset":0.2353,"color":"#fff"},{"offset":0.2735,"color":"#fff"},{"offset":0.2735,"color":"#8c8c8c"},{"offset":0.2941,"color":"#8c8c8c"},{"offset":0.2941,"color":"#fff"},{"offset":0.3324,"color":"#fff"},{"offset":0.3324,"color":"#8c8c8c"},{"offset":0.3529,"color":"#8c8c8c"},{"offset":0.3529,"color":"#fff"},{"offset":0.3912,"color":"#fff"},{"offset":0.3912,"color":"#8c8c8c"},{"offset":0.4118,"color":"#8c8c8c"},{"offset":0.4118,"color":"#fff"},{"offset":0.45,"color":"#fff"},{"offset":0.45,"color":"#8c8c8c"},{"offset":0.4706,"color":"#8c8c8c"},{"offset":0.4706,"color":"#fff"},{"offset":0.5088,"color":"#fff"},{"offset":0.5088,"color":"#8c8c8c"},{"offset":0.5294,"color":"#8c8c8c"},{"offset":0.5294,"color":"#fff"},{"offset":0.5676,"color":"#fff"},{"offset":0.5676,"color":"#8c8c8c"},{"offset":0.5882,"color":"#8c8c8c"},{"offset":0.5882,"color":"#fff"},{"offset":0.6265,"color":"#fff"},{"offset":0.6265,"color":"#8c8c8c"},{"offset":0.6471,"color":"#8c8c8c"},{"offset":0.6471,"color":"#fff"},{"offset":0.6853,"color":"#fff"},{"offset":0.6853,"color":"#8c8c8c"},{"offset":0.7059,"color":"#8c8c8c"},{"offset":0.7059,"color":"#fff"},{"offset":0.7441,"color":"#fff"},{"offset":0.7441,"color":"#8c8c8c"},{"offset":0.7647,"color":"#8c8c8c"},{"offset":0.7647,"color":"#fff"},{"offset":0.8029,"color":"#fff"},{"offset":0.8029,"color":"#8c8c8c"},{"offset":0.8235,"color":"#8c8c8c"},{"offset":0.8235,"color":"#fff"},{"offset":0.8618,"color":"#fff"},{"offset":0.8618,"color":"#8c8c8c"},{"offset":0.8824,"color":"#8c8c8c"},{"offset":0.8824,"color":"#fff"},{"offset":0.9206,"color":"#fff"},{"offset":0.9206,"color":"#8c8c8c"},{"offset":0.9412,"color":"#8c8c8c"},{"offset":0.9412,"color":"#fff"},{"offset":0.9794,"color":"#fff"},{"offset":0.9794,"color":"#8c8c8c"},{"offset":1,"color":"#8c8c8c"}]}}, "encoding": {"y2": {"datum": 60}}},
{"mark": {"type": "text", "dy": -4, "fontSize": 11, "color": "#555555", "baseline": "alphabetic"}, "encoding": {"text": {"field": "sig"}}}
]
}
],
"config": {
"font": "Liberation Sans",
"view": {"stroke": null},
"axis": {"domainColor": "#000", "domainWidth": 2, "tickColor": "#000", "tickWidth": 1.5, "tickSize": 4, "labelFont": "Liberation Sans", "labelFontSize": 13, "labelColor": "#000", "titleFont": "Liberation Sans", "titleFontSize": 15, "titleFontWeight": "bold", "titleColor": "#000", "grid": false},
"title": {"font": "Liberation Sans", "fontSize": 26, "fontWeight": "bold", "anchor": "start", "frame": "group", "color": "#000", "offset": 4},
"legend": {"labelFont": "Liberation Sans"}
}
}
